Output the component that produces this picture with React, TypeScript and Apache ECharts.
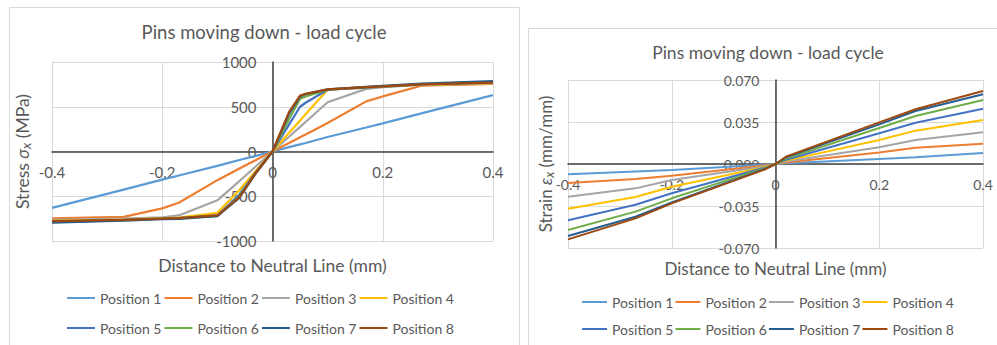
import React, { useEffect, useRef } from "react";
import * as echarts from "echarts";

const NAMES = ["Position 1", "Position 2", "Position 3", "Position 4", "Position 5", "Position 6", "Position 7", "Position 8"];
const COLORS = ["#5B9BD5", "#ED7D31", "#A5A5A5", "#FFC000", "#4472C4", "#70AD47", "#255E91", "#9E480E"];

const TITLE = "Pins moving down - load cycle";
const X_NAME = "Distance to Neutral Line (mm)";

// Stress chart (MPa)
const STRESS_X = [-0.4, -0.27, -0.2, -0.17, -0.1, -0.06, -0.03, 0, 0.03, 0.05, 0.06, 0.1, 0.17, 0.2, 0.27, 0.4];
const STRESS_P1 = [-630, -425, -315, -268, -160, -95, -48, 0, 48, 80, 95, 162, 268, 315, 425, 630];
const STRESS_P2 = [-748, -730, -635, -572, -320, -190, -95, 0, 95, 160, 190, 318, 560, 615, 735, 755];
const STRESS_P3 = [-765, -750, -735, -715, -545, -330, -165, 0, 165, 275, 330, 550, 700, 720, 745, 762];
const STRESS_P4 = [-775, -760, -745, -738, -685, -430, -215, 0, 210, 345, 415, 690, 715, 725, 748, 765];
const STRESS_P5 = [-785, -765, -750, -745, -715, -480, -230, 0, 300, 500, 545, 690, 715, 725, 750, 770];
const STRESS_P6 = [-790, -768, -752, -748, -718, -500, -240, 0, 360, 590, 615, 692, 718, 728, 752, 775];
const STRESS_P7 = [-795, -772, -756, -752, -722, -515, -240, 0, 420, 615, 640, 695, 722, 733, 758, 785];
const STRESS_P8 = [-778, -765, -750, -745, -715, -510, -235, 0, 440, 625, 645, 693, 718, 728, 750, 770];
const STRESS = [STRESS_P1, STRESS_P2, STRESS_P3, STRESS_P4, STRESS_P5, STRESS_P6, STRESS_P7, STRESS_P8];

// Strain chart (mm/mm)
const STRAIN_X = [-0.4, -0.27, -0.2, -0.02, 0, 0.02, 0.2, 0.27, 0.4];
const STRAIN_P1 = [-0.0085, -0.0062, -0.005, -0.0006, 0, 0.0006, 0.0042, 0.0056, 0.0092];
const STRAIN_P2 = [-0.0158, -0.0125, -0.0098, -0.0012, 0, 0.0012, 0.0096, 0.0135, 0.0169];
const STRAIN_P3 = [-0.0272, -0.0203, -0.0134, -0.002, 0, 0.002, 0.0139, 0.02, 0.0264];
const STRAIN_P4 = [-0.0372, -0.0275, -0.019, -0.0025, 0, 0.0028, 0.02, 0.0278, 0.0367];
const STRAIN_P5 = [-0.0469, -0.034, -0.0244, -0.003, 0, 0.0035, 0.0256, 0.0344, 0.0461];
const STRAIN_P6 = [-0.055, -0.0397, -0.0286, -0.0035, 0, 0.0045, 0.03, 0.04, 0.0533];
const STRAIN_P7 = [-0.06, -0.044, -0.032, -0.004, 0, 0.0055, 0.033, 0.0442, 0.0581];
const STRAIN_P8 = [-0.0628, -0.0453, -0.0328, -0.0045, 0, 0.006, 0.0347, 0.0456, 0.0608];
const STRAIN = [STRAIN_P1, STRAIN_P2, STRAIN_P3, STRAIN_P4, STRAIN_P5, STRAIN_P6, STRAIN_P7, STRAIN_P8];

const X_TICKS = { min: -0.4, max: 0.4, interval: 0.2 };
const STRESS_TICKS = { min: -1000, max: 1000, interval: 500 };
const STRAIN_TICKS = { min: -0.07, max: 0.07, interval: 0.035 };

const FONT = "Lato, 'Open Sans', sans-serif";
const TXT = "#595959";
const GRIDC = "#d9d9d9";
const AXC = "#404040";

export default function App() {
  const ref = useRef<HTMLDivElement>(null);
  useEffect(() => {
    if (!ref.current) return;
    const chart = echarts.init(ref.current, null, { renderer: "svg" });

    const xAxisBase = (gridIndex: number, fs: number, nfs: number, gap: number, margin: number, offset: number) => ({
      type: "value",
      gridIndex,
      min: X_TICKS.min,
      max: X_TICKS.max,
      interval: X_TICKS.interval,
      offset,
      name: X_NAME,
      nameLocation: "middle",
      nameGap: gap,
      nameTextStyle: { color: TXT, fontSize: nfs, fontFamily: FONT },
      axisLine: { show: true, onZero: false, lineStyle: { color: AXC, width: 1.5 } },
      axisTick: { show: false },
      axisLabel: {
        color: TXT,
        fontSize: fs,
        fontFamily: FONT,
        margin,
        formatter: (v: number) => (Math.abs(v) < 1e-9 ? "0" : String(+v.toFixed(1))),
      },
      splitLine: { show: true, lineStyle: { color: GRIDC, width: 1 } },
    });

    const yAxisBase = (gridIndex: number, ticks: any, fs: number, nfs: number, name: string, gap: number, offset: number, fmt: (v: number) => string) => ({
      type: "value",
      gridIndex,
      min: ticks.min,
      max: ticks.max,
      interval: ticks.interval,
      offset,
      name,
      nameLocation: "middle",
      nameGap: gap,
      nameTextStyle: {
        color: TXT,
        fontSize: nfs,
        fontFamily: FONT,
        rich: {
          it: { color: TXT, fontSize: nfs, fontFamily: FONT, fontStyle: "italic" },
          sub: { color: TXT, fontSize: nfs - 4, fontFamily: FONT, fontStyle: "italic", verticalAlign: "bottom", padding: [7, 0, 0, 0] },
        },
      },
      axisLine: { show: true, onZero: false, lineStyle: { color: AXC, width: 1.5 } },
      axisTick: { show: false },
      axisLabel: { color: TXT, fontSize: fs, fontFamily: FONT, margin: 16, formatter: fmt },
      splitLine: { show: true, lineStyle: { color: GRIDC, width: 1 } },
    });

    const series: any[] = [];
    STRESS.forEach((vals, i) => {
      series.push({
        type: "line",
        name: NAMES[i],
        xAxisIndex: 0,
        yAxisIndex: 0,
        data: STRESS_X.map((x, j) => [x, vals[j]]),
        symbol: "none",
        showSymbol: false,
        color: COLORS[i],
        lineStyle: { color: COLORS[i], width: 2.25 },
      });
    });
    STRAIN.forEach((vals, i) => {
      series.push({
        type: "line",
        name: NAMES[i],
        xAxisIndex: 1,
        yAxisIndex: 1,
        data: STRAIN_X.map((x, j) => [x, vals[j]]),
        symbol: "none",
        showSymbol: false,
        color: COLORS[i],
        lineStyle: { color: COLORS[i], width: 2 },
      });
    });

    const legend = (names: string[], left: number, top: number, fs: number, iw: number, gap: number) => ({
      data: names,
      left,
      top,
      padding: 0,
      icon: "rect",
      itemWidth: iw,
      itemHeight: 2,
      itemGap: gap,
      selectedMode: false,
      textStyle: { color: TXT, fontSize: fs, fontFamily: FONT },
    });

    chart.setOption({
      animation: false,
      backgroundColor: "#ffffff",
      graphic: [
        { type: "rect", shape: { x: 9.5, y: 7.5, width: 510, height: 360 }, style: { fill: "none", stroke: GRIDC, lineWidth: 1 } },
        { type: "rect", shape: { x: 528.5, y: 28.5, width: 490, height: 340 }, style: { fill: "#ffffff", stroke: GRIDC, lineWidth: 1 } },
        { type: "text", x: 264, y: 32, style: { text: TITLE, fill: TXT, font: `18.5px ${FONT}`, align: "center", verticalAlign: "middle" } },
        { type: "text", x: 768, y: 52, style: { text: TITLE, fill: TXT, font: `17.5px ${FONT}`, align: "center", verticalAlign: "middle" } },
      ],
      grid: [
        { left: 52, top: 62, width: 441, height: 179, outerBoundsMode: "none" },
        { left: 568, top: 80, width: 415, height: 168, outerBoundsMode: "none" },
      ],
      legend: [
        legend(NAMES.slice(0, 4), 67, 291, 14, 28, 3),
        legend(NAMES.slice(4, 8), 67, 321, 14, 28, 3),
        legend(NAMES.slice(0, 4), 582, 295, 14, 25, 2),
        legend(NAMES.slice(4, 8), 582, 322, 14, 25, 2),
      ],
      xAxis: [xAxisBase(0, 15, 17.5, 105, 13, -89.5), xAxisBase(1, 14, 17, 96, 13, -84)],
      yAxis: [
        yAxisBase(0, STRESS_TICKS, 15, 17.5, "Stress {it|σ}{sub|x} (MPa)", 240, -220.5, (v: number) => String(Math.round(v))),
        yAxisBase(1, STRAIN_TICKS, 14, 17, "Strain {it|ε}{sub|x} (mm/mm)", 220, -207.5, (v: number) => v.toFixed(3)),
      ],
      series,
    });
    return () => chart.dispose();
  }, []);
  return (
    <div
      ref={ref}
      style={{ position: "absolute", left: 0, top: 0, width: 997, height: 345, background: "#fff" }}
    />
  );
}
